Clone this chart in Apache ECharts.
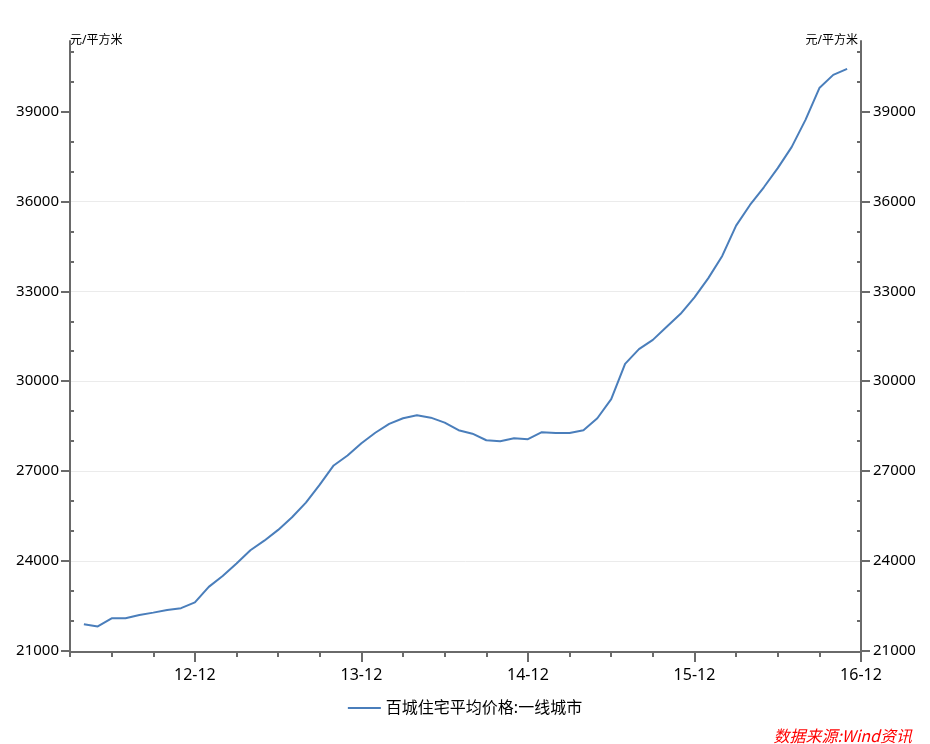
<!DOCTYPE html>
<html>
<head>
<meta charset="utf-8">
<script src="https://cdn.jsdelivr.net/npm/echarts@6/dist/echarts.min.js"></script>
<style>
html,body{margin:0;padding:0;background:#fff;}
#chart{width:930px;height:744px;}
</style>
</head>
<body>
<div id="chart"></div>
<script>
// ---- data ----
const months = [
  '2012-04','2012-05','2012-06','2012-07','2012-08','2012-09','2012-10','2012-11','2012-12',
  '2013-01','2013-02','2013-03','2013-04','2013-05','2013-06','2013-07','2013-08','2013-09','2013-10','2013-11','2013-12',
  '2014-01','2014-02','2014-03','2014-04','2014-05','2014-06','2014-07','2014-08','2014-09','2014-10','2014-11','2014-12',
  '2015-01','2015-02','2015-03','2015-04','2015-05','2015-06','2015-07','2015-08','2015-09','2015-10','2015-11','2015-12',
  '2016-01','2016-02','2016-03','2016-04','2016-05','2016-06','2016-07','2016-08','2016-09','2016-10','2016-11'
];
const tier1Price = [
  21890,21820,22090,22090,22200,22280,22370,22430,22620,
  23140,23500,23920,24360,24680,25040,25460,25950,26550,27190,27520,27930,
  28280,28575,28765,28865,28785,28620,28365,28250,28030,28000,28100,28065,
  28300,28275,28275,28365,28765,29400,30580,31070,31380,31820,32250,32800,
  33440,34180,35190,35880,36470,37110,37810,38720,39780,40220,40420
];
const seriesName = '百城住宅平均价格:一线城市';
const unitName = '元/平方米';
const sourceText = '数据来源:Wind资讯';
const xAxisStart = '2012-03';
const xAxisEnd = '2016-12';
const xTickMonths = ['2012-12','2013-12','2014-12','2015-12','2016-12'];
const xTickLabels = ['12-12','13-12','14-12','15-12','16-12'];
const yMajorTicks = [21000,24000,27000,30000,33000,36000,39000];
const yMinorTicks = [22000,23000,25000,26000,28000,29000,31000,32000,34000,35000,37000,38000,40000,41000];
const yMin = 21000, yMax = 41350;

// ---- helpers ----
function monthIndex(m) {
  const [y, mo] = m.split('-').map(Number);
  const [y0, m0] = xAxisStart.split('-').map(Number);
  return (y - y0) * 12 + (mo - m0);
}
const xMin = 0, xMax = monthIndex(xAxisEnd);
const xMajorPos = xTickMonths.map(monthIndex);
const seriesData = months.map((m, i) => [monthIndex(m), tier1Price[i]]);

const FONT = "'Noto Sans', 'Noto Sans CJK SC', sans-serif";
const AXIS_COLOR = '#6a6a6a';

function yAxisMajor(position, nameAlign) {
  return {
    type: 'value', position: position, min: yMin, max: yMax, interval: 3000,
    name: unitName, nameLocation: 'end', nameGap: 0,
    nameTextStyle: { align: nameAlign, verticalAlign: 'middle', fontSize: 12, color: '#000', fontFamily: FONT,
      padding: nameAlign === 'left' ? [2, 0, 0, 0] : [2, 3, 0, 0] },
    axisLine: { show: true, lineStyle: { color: AXIS_COLOR, width: 2 } },
    axisTick: { show: true, inside: false, length: 9, customValues: yMajorTicks, lineStyle: { color: AXIS_COLOR, width: 2 } },
    axisLabel: { show: true, customValues: yMajorTicks, margin: position === 'left' ? 11 : 12, fontSize: 15, color: '#000', fontFamily: FONT,
      formatter: function (v) { return String(v); } },
    splitLine: { show: position === 'left', showMaxLine: false, lineStyle: { color: '#ebebeb', width: 1 } }
  };
}
function yAxisMinor(position) {
  return {
    type: 'value', position: position, min: yMin, max: yMax, interval: 1000,
    axisLine: { show: false },
    axisTick: { show: true, inside: true, length: 4, customValues: yMinorTicks, lineStyle: { color: AXIS_COLOR, width: 2 } },
    axisLabel: { show: false },
    splitLine: { show: false }
  };
}

const chart = echarts.init(document.getElementById('chart'), null, { renderer: 'canvas' });
chart.setOption({
  animation: false,
  backgroundColor: '#fff',
  grid: { left: 70, right: 69, top: 41, bottom: 93, containLabel: false },
  xAxis: [
    {
      type: 'value', position: 'bottom', min: xMin, max: xMax, interval: 3, offset: 1,
      axisLine: { show: true, lineStyle: { color: AXIS_COLOR, width: 2 } },
      axisTick: { show: true, length: 10, customValues: xMajorPos, lineStyle: { color: AXIS_COLOR, width: 2 } },
      axisLabel: {
        show: true, customValues: xMajorPos, margin: 15, fontSize: 16, color: '#000', fontFamily: FONT,
        formatter: function (v) { const k = xMajorPos.indexOf(Math.round(v)); return k >= 0 ? xTickLabels[k] : ''; }
      },
      splitLine: { show: false }
    },
    {
      type: 'value', position: 'bottom', min: xMin, max: xMax, interval: 3, offset: 1,
      axisLine: { show: false },
      axisTick: { show: true, length: 5, lineStyle: { color: AXIS_COLOR, width: 2 } },
      axisLabel: { show: false },
      splitLine: { show: false }
    }
  ],
  yAxis: [yAxisMajor('left', 'left'), yAxisMinor('left'), yAxisMajor('right', 'right'), yAxisMinor('right')],
  legend: {
    show: true, bottom: 'auto', top: 695, left: 'center',
    icon: 'rect', itemWidth: 33, itemHeight: 2, itemGap: 10,
    textStyle: { fontSize: 16, color: '#000', fontFamily: FONT },
    data: [seriesName]
  },
  series: [{
    name: seriesName, type: 'line', xAxisIndex: 0, yAxisIndex: 0,
    data: seriesData, symbol: 'none', smooth: false,
    lineStyle: { color: '#4a7ebb', width: 2 },
    itemStyle: { color: '#4a7ebb' }
  }],
  graphic: [{
    type: 'text', right: 18, top: 728,
    style: { text: sourceText, fill: '#ff0000', font: "italic 16px 'Noto Sans CJK SC', sans-serif" }
  }]
});
</script>
</body>
</html>
